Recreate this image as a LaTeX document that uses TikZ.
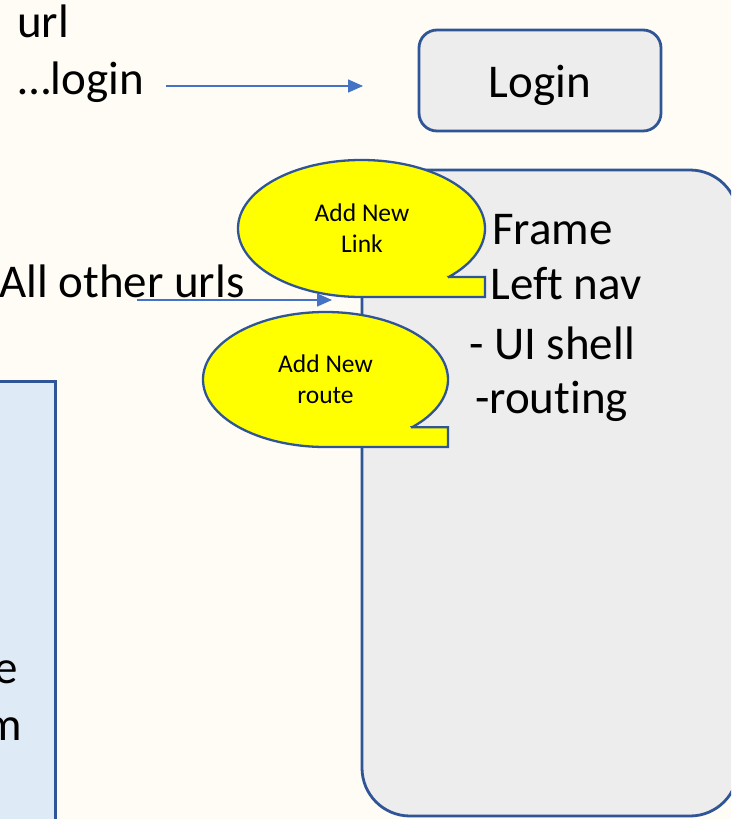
\documentclass[tikz,border=0pt]{standalone}
\usepackage{fontspec}
\setmainfont{Carlito}[Ligatures=NoCommon]
\usetikzlibrary{arrows.meta}

\definecolor{paper}{HTML}{FEFCF4}
\definecolor{edge}{HTML}{2F5597}
\definecolor{arrowblue}{HTML}{4472C4}
\definecolor{greyfill}{HTML}{EDEDED}
\definecolor{sidefill}{HTML}{DEEBF7}
\definecolor{bubblefill}{HTML}{FFFF00}

\begin{document}
\begin{tikzpicture}[x=1pt, y=-1pt,
  bigtext/.style={font=\fontsize{47}{56}\selectfont, inner sep=0pt},
  smalltext/.style={font=\fontsize{25.5}{31}\selectfont, align=center, inner sep=0pt},
  panel/.style={draw=edge, line width=2.8pt},
  bubble/.style={draw=edge, fill=bubblefill, line width=2.3pt, line join=miter},
  link/.style={draw=arrowblue, line width=1.5pt, -{Triangle[length=15pt, width=13pt]}}
]
\useasboundingbox (0,0) rectangle (731,819);
\clip (0,0) rectangle (731,819);
\fill[paper] (0,0) rectangle (731,819);

% side panel on the left, running off the page
\node[panel, fill=sidefill, anchor=north east, minimum width=120pt,
      minimum height=500pt] (side) at (57,380) {};
\node[bigtext, anchor=base east] (sidee) at (18.5,683) {e};
\node[bigtext, anchor=base east] (sidem) at (22.5,740) {m};

% url labels
\node[bigtext, anchor=base west] (url) at (17,37) {url};
\node[bigtext, anchor=base west] (loginurl) at (18,94) {…login};
\node[bigtext, anchor=base west] (otherurls) at (-1,297) {All other urls};

% login page
\node[panel, fill=greyfill, rounded corners=18pt, minimum width=242pt,
      minimum height=101pt, bigtext, text height=33pt, text depth=0pt]
      (login) at (540,80.5) {Login};

% application shell, its right side running off the page
\node[panel, fill=greyfill, rounded corners=48pt, minimum width=376pt,
      minimum height=646pt] (shell) at (550,493) {};
\node[bigtext, anchor=base] (frame)   at (552.5,244) {Frame};
\node[bigtext, anchor=base] (leftnav) at (566,299)   {Left nav};
\node[bigtext, anchor=base] (uishell) at (552,359)   {- UI shell};
\node[bigtext, anchor=base] (routing) at (551.5,413) {-routing};

% speech bubbles
\path[bubble] (448.8,276.9) -- (485,276.9) -- (485,297) -- (361.5,297)
  arc[start angle=-90, end angle=-405, x radius=123.5pt, y radius=68.5pt] -- cycle;
\node[smalltext] (addlink) at (362,228) {Add New\\Link};

\path[bubble] (412.1,427.2) -- (448,427.2) -- (448,447) -- (325.5,447)
  arc[start angle=-90, end angle=-405, x radius=122.5pt, y radius=67.5pt] -- cycle;
\node[smalltext] (addroute) at (325.5,379) {Add New\\route};

% connectors
\coordinate (a1) at (166,86);
\coordinate (a1end) at (363,86);
\coordinate (a2) at (137,300);
\coordinate (a2end) at (332,300);
\draw[link] (a1) -- (a1end);
\draw[link] (a2) -- (a2end);
\end{tikzpicture}
\end{document}
